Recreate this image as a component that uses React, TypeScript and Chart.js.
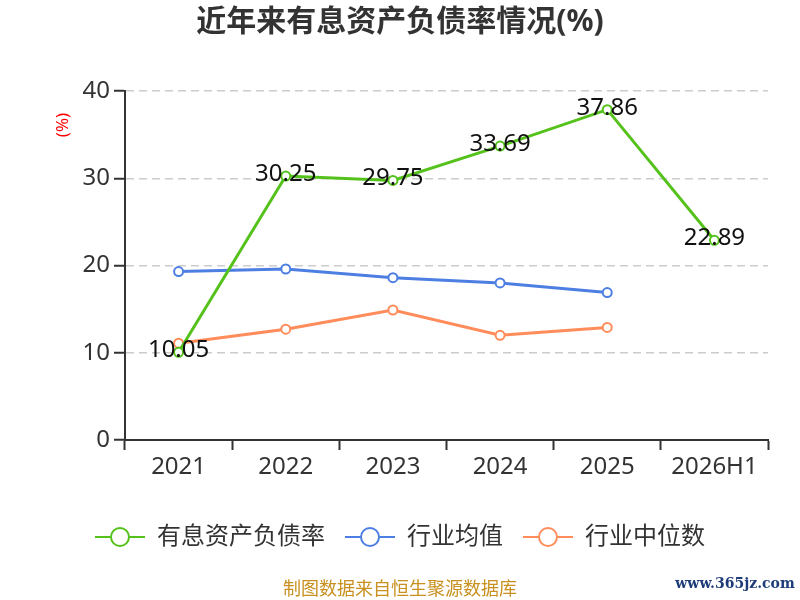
import { useEffect, useRef } from "react";
import { Chart, registerables, type Plugin } from "chart.js";

Chart.register(...registerables);

const categories = ["2021", "2022", "2023", "2024", "2025", "2026H1"];
const debtRatio = [10.05, 30.25, 29.75, 33.69, 37.86, 22.89];
const industryMean = [19.3, 19.6, 18.6, 18.0, 16.9, null];
const industryMedian = [11.1, 12.7, 14.9, 12.0, 12.9, null];
const seriesNames = ["有息资产负债率", "行业均值", "行业中位数"];

const GREEN = "#55c21b";
const BLUE = "#4d7fe3";
const ORANGE = "#ff8c5a";
const FONT = '"Noto Sans", "Noto Sans CJK SC", sans-serif';

// little "—o—" glyph used as the legend marker
function legendMarker(color: string) {
  const c = document.createElement("canvas");
  c.width = 50;
  c.height = 24;
  const ctx = c.getContext("2d")!;
  ctx.strokeStyle = color;
  ctx.lineWidth = 2;
  ctx.beginPath();
  ctx.moveTo(0, 12);
  ctx.lineTo(50, 12);
  ctx.stroke();
  ctx.beginPath();
  ctx.arc(25, 12, 9, 0, Math.PI * 2);
  ctx.fillStyle = "#fff";
  ctx.fill();
  ctx.stroke();
  return c;
}

const extras: Plugin<"line"> = {
  id: "extras",
  afterDatasetsDraw(chart) {
    const { ctx } = chart;
    const meta = chart.getDatasetMeta(0);
    ctx.save();
    ctx.font = `24px ${FONT}`;
    ctx.fillStyle = "#111";
    ctx.textAlign = "center";
    ctx.textBaseline = "middle";
    meta.data.forEach((pt, i) => {
      ctx.fillText(debtRatio[i].toFixed(2), pt.x, pt.y - 2);
    });
    ctx.restore();
  },
  afterDraw(chart) {
    const { ctx } = chart;
    ctx.save();
    // axis unit
    ctx.translate(63, 125);
    ctx.rotate(-Math.PI / 2);
    ctx.font = `17px ${FONT}`;
    ctx.fillStyle = "#ff0000";
    ctx.textAlign = "center";
    ctx.textBaseline = "middle";
    ctx.fillText("(%)", 0, 0);
    ctx.restore();

    ctx.save();
    ctx.textAlign = "center";
    ctx.textBaseline = "middle";
    ctx.font = `18px ${FONT}`;
    ctx.fillStyle = "#c8901e";
    ctx.fillText("制图数据来自恒生聚源数据库", 400, 590);
    ctx.font = `bold 14px "DejaVu Serif", serif`;
    ctx.fillStyle = "#1e3c7a";
    ctx.fillText("www.365jz.com", 735, 584);
    ctx.restore();
  },
};

export default function App() {
  const canvasRef = useRef<HTMLCanvasElement>(null);

  useEffect(() => {
    if (!canvasRef.current) return;
    Chart.defaults.font.family = FONT;

    const colors = [GREEN, BLUE, ORANGE];
    const markers = colors.map(legendMarker);

    const chart = new Chart(canvasRef.current, {
      type: "line",
      data: {
        labels: categories,
        datasets: [debtRatio, industryMean, industryMedian].map((data, i) => ({
          label: seriesNames[i],
          data,
          borderColor: colors[i],
          backgroundColor: "#fff",
          pointBackgroundColor: "#fff",
          pointBorderColor: colors[i],
          pointBorderWidth: 2,
          pointRadius: 4.5,
          borderWidth: 3,
          tension: 0,
        })),
      },
      options: {
        animation: false,
        responsive: true,
        maintainAspectRatio: false,
        layout: { padding: { left: 32, right: 32, top: 0, bottom: 41 } },
        scales: {
          x: {
            offset: true,
            grid: {
              offset: true,
              drawOnChartArea: false,
              tickLength: 10,
              tickColor: "#333",
              tickWidth: 2,
            },
            border: { display: true, color: "#333", width: 2 },
            ticks: { color: "#333", font: { size: 24 }, padding: 3 },
            afterFit(scale) {
              scale.height = 65;
            },
          },
          y: {
            min: 0,
            max: 40,
            ticks: { stepSize: 10, color: "#333", font: { size: 24 }, padding: 4 },
            grid: {
              color: "#cccccc",
              lineWidth: 1.5,
              tickLength: 11,
              tickColor: "#333",
              tickWidth: 2,
            },
            border: { display: true, color: "#333", width: 2, dash: [8, 5] },
            afterFit(scale) {
              scale.width = 93;
            },
          },
        },
        plugins: {
          title: {
            display: true,
            text: "近年来有息资产负债率情况(%)",
            color: "#333",
            font: { size: 30, weight: "bold" },
            padding: { top: 4, bottom: 51 },
          },
          legend: {
            position: "bottom",
            labels: {
              color: "#333",
              font: { size: 24 },
              padding: 20,
              usePointStyle: true,
              pointStyleWidth: 50,
              generateLabels(ch) {
                return ch.data.datasets.map((ds, i) => ({
                  text: ds.label as string,
                  pointStyle: markers[i],
                  fillStyle: "#fff",
                  strokeStyle: colors[i],
                  fontColor: "#333",
                  lineWidth: 0,
                  hidden: false,
                  datasetIndex: i,
                }));
              },
            },
          },
          tooltip: { enabled: false },
        },
      },
      plugins: [extras],
    });

    return () => chart.destroy();
  }, []);

  return (
    <div style={{ position: "fixed", left: 0, top: 0, width: 800, height: 600, background: "#fff" }}>
      <canvas ref={canvasRef} />
    </div>
  );
}
